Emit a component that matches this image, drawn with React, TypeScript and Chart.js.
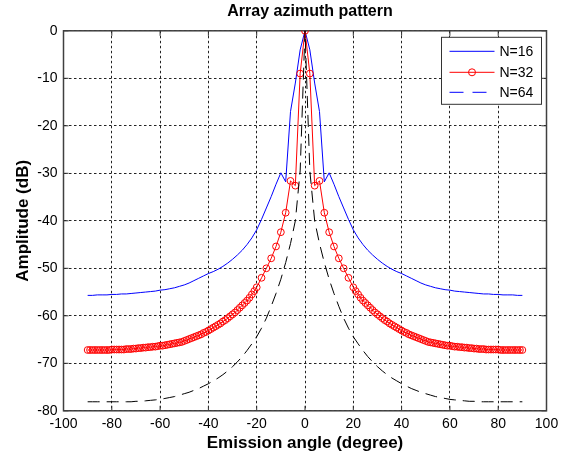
import React, { useEffect, useRef } from 'react';
import { Chart, registerables } from 'chart.js';

Chart.register(...registerables);

const titleText = 'Array azimuth pattern';
const xTitle = 'Emission angle (degree)';
const yTitle = 'Amplitude (dB)';
const seriesLabels = ['N=16', 'N=32', 'N=64'];
const legendSampleColors = ['#0000ff', '#ff0000', '#0000ff'];

// angles for N=16 and N=64 curves
const angles = [
  -90, -88, -86, -84, -82, -80, -78, -76, -74, -72,
  -70, -68, -66, -64, -62, -60, -58, -56, -54, -52,
  -50, -48, -46, -44, -42, -40, -38, -36, -34, -32,
  -30, -28, -26, -24, -22, -20, -18, -16, -14, -12,
  -10, -8, -6, -4, -2, 0,
  2, 4, 6, 8, 10, 12, 14, 16, 18, 20,
  22, 24, 26, 28, 30, 32, 34, 36, 38, 40,
  42, 44, 46, 48, 50, 52, 54, 56, 58, 60,
  62, 64, 66, 68, 70, 72, 74, 76, 78, 80,
  82, 84, 86, 88, 90,
];

const n16 = [
  -55.7, -55.7, -55.6, -55.6, -55.6, -55.5, -55.5, -55.4, -55.4, -55.3,
  -55.2, -55.1, -55.0, -54.9, -54.8, -54.6, -54.5, -54.3, -54.1, -53.8,
  -53.5, -53.1, -52.6, -52.1, -51.6, -51.1, -50.7, -50.2, -49.6, -48.9,
  -48.1, -47.2, -46.2, -45.0, -43.6, -41.9, -39.7, -37.3, -34.9, -32.3,
  -29.9, -31.8, -17.0, -11.0, -4.0, 0,
  -4.0, -11.0, -17.0, -31.8, -29.9, -32.3, -34.9, -37.3, -39.7, -41.9,
  -43.6, -45.0, -46.2, -47.2, -48.1, -48.9, -49.6, -50.2, -50.7, -51.1,
  -51.6, -52.1, -52.6, -53.1, -53.5, -53.8, -54.1, -54.3, -54.5, -54.6,
  -54.8, -54.9, -55.0, -55.1, -55.2, -55.3, -55.4, -55.4, -55.5, -55.5,
  -55.6, -55.6, -55.6, -55.7, -55.7,
];

const n64 = [
  -78.1, -78.1, -78.1, -78.1, -78.1, -78.1, -78.1, -78.1, -78.1, -78.1,
  -78.0, -78.0, -77.9, -77.8, -77.7, -77.6, -77.4, -77.2, -77.0, -76.7,
  -76.4, -76.1, -75.7, -75.3, -74.8, -74.3, -73.7, -73.1, -72.4, -71.6,
  -70.7, -69.7, -68.6, -67.3, -65.9, -64.4, -62.6, -60.5, -58.0, -55.3,
  -52.3, -48.8, -44.8, -40.0, -29.5, 0,
  -29.5, -40.0, -44.8, -48.8, -52.3, -55.3, -58.0, -60.5, -62.6, -64.4,
  -65.9, -67.3, -68.6, -69.7, -70.7, -71.6, -72.4, -73.1, -73.7, -74.3,
  -74.8, -75.3, -75.7, -76.1, -76.4, -76.7, -77.0, -77.2, -77.4, -77.6,
  -77.7, -77.8, -77.9, -78.0, -78.0, -78.1, -78.1, -78.1, -78.1, -78.1,
  -78.1, -78.1, -78.1, -78.1, -78.1,
];

// angles for the N=32 curve (markers are denser in the tails)
const angles32 = [
  -90, -89, -88, -87, -86, -85, -84, -83, -82, -81,
  -80, -79, -78, -77, -76, -75, -74, -73, -72, -71,
  -70, -69, -68, -67, -66, -65, -64, -63, -62, -61,
  -60, -59, -58, -57, -56, -55, -54, -53, -52, -51,
  -50, -49, -48, -47, -46, -45, -44, -43, -42, -41,
  -40, -39, -38, -37, -36, -35, -34, -33, -32, -31,
  -30, -29, -28, -27, -26, -25, -24, -23, -22, -21,
  -20, -18, -16, -14, -12, -10, -8, -6, -4, -2,
  0,
  2, 4, 6, 8, 10, 12, 14, 16, 18, 20,
  21, 22, 23, 24, 25, 26, 27, 28, 29, 30,
  31, 32, 33, 34, 35, 36, 37, 38, 39, 40,
  41, 42, 43, 44, 45, 46, 47, 48, 49, 50,
  51, 52, 53, 54, 55, 56, 57, 58, 59, 60,
  61, 62, 63, 64, 65, 66, 67, 68, 69, 70,
  71, 72, 73, 74, 75, 76, 77, 78, 79, 80,
  81, 82, 83, 84, 85, 86, 87, 88, 89, 90,
];

const n32 = [
  -67.2, -67.2, -67.2, -67.2, -67.2, -67.2, -67.2, -67.2, -67.2, -67.2,
  -67.1, -67.1, -67.1, -67.1, -67.1, -67.1, -67.0, -67.0, -67.0, -66.9,
  -66.9, -66.8, -66.8, -66.7, -66.7, -66.6, -66.6, -66.5, -66.5, -66.4,
  -66.3, -66.3, -66.2, -66.1, -66.0, -65.9, -65.8, -65.7, -65.6, -65.5,
  -65.3, -65.1, -64.9, -64.7, -64.5, -64.3, -64.1, -63.9, -63.6, -63.4,
  -63.1, -62.8, -62.5, -62.2, -61.9, -61.6, -61.2, -60.9, -60.5, -60.1,
  -59.7, -59.3, -58.8, -58.3, -57.8, -57.3, -56.8, -56.2, -55.5, -54.8,
  -54.0, -52.0, -50.0, -47.9, -45.4, -42.4, -38.3, -31.6, -32.6, -9.0,
  0,
  -9.0, -32.6, -31.6, -38.3, -42.4, -45.4, -47.9, -50.0, -52.0, -54.0,
  -54.8, -55.5, -56.2, -56.8, -57.3, -57.8, -58.3, -58.8, -59.3, -59.7,
  -60.1, -60.5, -60.9, -61.2, -61.6, -61.9, -62.2, -62.5, -62.8, -63.1,
  -63.4, -63.6, -63.9, -64.1, -64.3, -64.5, -64.7, -64.9, -65.1, -65.3,
  -65.5, -65.6, -65.7, -65.8, -65.9, -66.0, -66.1, -66.2, -66.3, -66.3,
  -66.4, -66.5, -66.5, -66.6, -66.6, -66.7, -66.7, -66.8, -66.8, -66.9,
  -66.9, -67.0, -67.0, -67.0, -67.1, -67.1, -67.1, -67.1, -67.1, -67.1,
  -67.2, -67.2, -67.2, -67.2, -67.2, -67.2, -67.2, -67.2, -67.2, -67.2,
];

const FONT = "'Liberation Sans', Arial, sans-serif";

const framePlugin = {
  id: 'matlabFrame',
  beforeDatasetsDraw(chart: any) {
    const { ctx, chartArea: a, scales } = chart;
    ctx.save();
    ctx.strokeStyle = '#333';
    ctx.lineWidth = 1;
    ctx.setLineDash([]);
    ctx.beginPath();
    scales.x.ticks.forEach((t: any) => {
      const px = scales.x.getPixelForValue(t.value);
      ctx.moveTo(px, a.top);
      ctx.lineTo(px, a.top + 5);
      ctx.moveTo(px, a.bottom);
      ctx.lineTo(px, a.bottom - 5);
    });
    scales.y.ticks.forEach((t: any) => {
      const py = scales.y.getPixelForValue(t.value);
      ctx.moveTo(a.left, py);
      ctx.lineTo(a.left + 5, py);
      ctx.moveTo(a.right, py);
      ctx.lineTo(a.right - 5, py);
    });
    ctx.stroke();
    ctx.strokeStyle = '#404040';
    ctx.lineWidth = 1.5;
    ctx.strokeRect(a.left, a.top, a.right - a.left, a.bottom - a.top);
    ctx.restore();
  },
  afterDraw(chart: any) {
    const { ctx, chartArea: a } = chart;
    ctx.save();
    ctx.fillStyle = '#000';
    ctx.font = `bold 16px ${FONT}`;
    ctx.textAlign = 'center';
    ctx.textBaseline = 'middle';
    ctx.fillText(titleText, (a.left + a.right) / 2 + 5, 12);

    const lx = a.right - 105;
    const ly = a.top + 6.5;
    const lw = 100;
    const lh = 67;
    ctx.fillStyle = '#fff';
    ctx.fillRect(lx, ly, lw, lh);
    ctx.strokeStyle = '#333';
    ctx.lineWidth = 1;
    ctx.strokeRect(lx, ly, lw, lh);
    const rowY = [ly + 14, ly + 35, ly + 55];
    chart.data.datasets.forEach((ds: any, i: number) => {
      const y = rowY[i];
      ctx.strokeStyle = legendSampleColors[i];
      ctx.lineWidth = 1;
      ctx.setLineDash(i === 2 ? [14, 9] : []);
      ctx.beginPath();
      ctx.moveTo(lx + 8, y);
      ctx.lineTo(lx + 53, y);
      ctx.stroke();
      ctx.setLineDash([]);
      if (i === 1) {
        ctx.beginPath();
        ctx.arc(lx + 30.5, y, 3.5, 0, Math.PI * 2);
        ctx.stroke();
      }
      ctx.fillStyle = '#000';
      ctx.font = `14px ${FONT}`;
      ctx.textAlign = 'left';
      ctx.textBaseline = 'middle';
      ctx.fillText(seriesLabels[i], lx + 58, y + 0.5);
    });
    ctx.restore();
  },
};

export default function App() {
  const ref = useRef<HTMLCanvasElement | null>(null);

  useEffect(() => {
    document.body.style.margin = '0';
    const canvas = ref.current;
    if (!canvas) return;
    const chart = new Chart(canvas, {
      type: 'line',
      data: {
        datasets: [
          {
            label: seriesLabels[0],
            data: angles.map((x, i) => ({ x, y: n16[i] })),
            borderColor: '#0000ff',
            borderWidth: 1,
            pointRadius: 0,
            fill: false,
            tension: 0,
            order: 2,
          },
          {
            label: seriesLabels[1],
            data: angles32.map((x, i) => ({ x, y: n32[i] })),
            borderColor: '#ff0000',
            borderWidth: 1,
            pointRadius: 3.4,
            pointStyle: 'circle',
            pointBorderColor: '#ff0000',
            pointBackgroundColor: 'rgba(0,0,0,0)',
            pointBorderWidth: 1,
            fill: false,
            tension: 0,
            order: 1,
          },
          {
            label: seriesLabels[2],
            data: angles.map((x, i) => ({ x, y: n64[i] })),
            borderColor: '#000000',
            borderWidth: 1,
            borderDash: [12, 7],
            pointRadius: 0,
            fill: false,
            tension: 0,
            order: 0,
          },
        ],
      },
      options: {
        responsive: false,
        animation: false,
        devicePixelRatio: 1,
        layout: { padding: { top: 30.8, right: 24.5, left: 0, bottom: 0 } },
        plugins: {
          legend: { display: false },
          tooltip: { enabled: false },
          title: { display: false },
        },
        scales: {
          x: {
            type: 'linear',
            min: -100,
            max: 100,
            ticks: {
              stepSize: 20,
              color: '#000',
              padding: 5,
              font: { family: FONT, size: 14 },
              maxRotation: 0,
              autoSkip: false,
            },
            grid: { color: '#222', lineWidth: 1, drawTicks: false },
            border: { display: false, dash: [2.5, 2.5] },
            title: {
              display: true,
              text: xTitle,
              color: '#000',
              font: { family: FONT, size: 17, weight: 'bold' },
              padding: { top: 0, bottom: 10.8 },
            },
            afterFit: (scale: any) => {
              scale.height = 53.2;
            },
          },
          y: {
            type: 'linear',
            min: -80,
            max: 0,
            ticks: {
              stepSize: 10,
              color: '#000',
              padding: 6,
              font: { family: FONT, size: 14 },
              autoSkip: false,
            },
            grid: { color: '#222', lineWidth: 1, drawTicks: false },
            border: { display: false, dash: [2.5, 2.5] },
            title: {
              display: true,
              text: yTitle,
              color: '#000',
              font: { family: FONT, size: 17, weight: 'bold' },
              padding: { top: 13, bottom: 0 },
            },
            afterFit: (scale: any) => {
              scale.width = 63.5;
            },
          },
        },
      },
      plugins: [framePlugin],
    } as any);
    return () => chart.destroy();
  }, []);

  return (
    <canvas
      ref={ref}
      width={571}
      height={464}
      style={{ display: 'block', width: 571, height: 464 }}
    />
  );
}
